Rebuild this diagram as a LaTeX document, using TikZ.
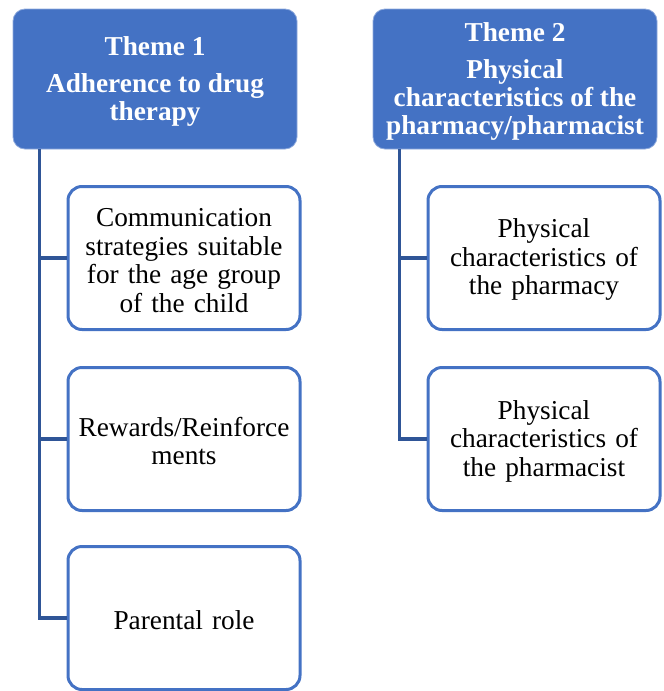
\documentclass[tikz,border=0pt]{standalone}
\usepackage{fontspec}
\setmainfont{Liberation Serif}
\definecolor{hdrfill}{HTML}{4472C4}
\definecolor{hdredge}{HTML}{8FAADC}
\definecolor{boxedge}{HTML}{4472C4}
\definecolor{linkcol}{HTML}{2F5597}
\newcommand{\topstrut}[1]{\rule{0pt}{#1}}
\begin{document}
\begin{tikzpicture}[x=1pt,y=-1pt,
  header/.style={draw=hdredge, line width=0.8pt, fill=hdrfill, rounded corners=12pt,
    minimum width=284pt, minimum height=140pt, text=white, align=center, inner sep=0pt,
    font=\fontsize{27.3}{28}\selectfont\bfseries},
  sub/.style={draw=boxedge, line width=3pt, fill=white, rounded corners=14pt,
    minimum width=232pt, minimum height=143pt, text=black, align=center, inner sep=0pt,
    text width=228pt, font=\fontsize{27.3}{28.5}\selectfont},
  link/.style={draw=linkcol, line width=3.2pt}]
\useasboundingbox (0,0) rectangle (664,691);
\node[header] (t1) at (155,79) {\topstrut{24.5pt}Theme 1\\[9pt]Adherence to drug\\therapy};
\node[header] (t2) at (515,79) {\topstrut{23.5pt}Theme 2\\[9pt]Physical\\characteristics of the\\pharmacy/pharmacist};
\node[sub] (c11) at (184,258) {\topstrut{22.8pt}Communication\\strategies suitable\\for the age group\\of the child};
\node[sub] (c12) at (184,439) {\topstrut{22.8pt}Rewards/Reinforce\\ments};
\node[sub] (c13) at (184,618) {\topstrut{22.8pt}Parental role};
\node[sub] (c21) at (544,258) {\topstrut{22.8pt}Physical\\characteristics of\\the pharmacy};
\node[sub] (c22) at (544,439) {\topstrut{22.8pt}Physical\\characteristics of\\the pharmacist};
\draw[link] ([xshift=27pt]t1.south west) |- (c13.west);
\draw[link] ([xshift=27pt]t1.south west |- c11.west) -- (c11.west);
\draw[link] ([xshift=27pt]t1.south west |- c12.west) -- (c12.west);
\draw[link] ([xshift=27pt]t2.south west) |- (c22.west);
\draw[link] ([xshift=27pt]t2.south west |- c21.west) -- (c21.west);
\end{tikzpicture}
\end{document}
